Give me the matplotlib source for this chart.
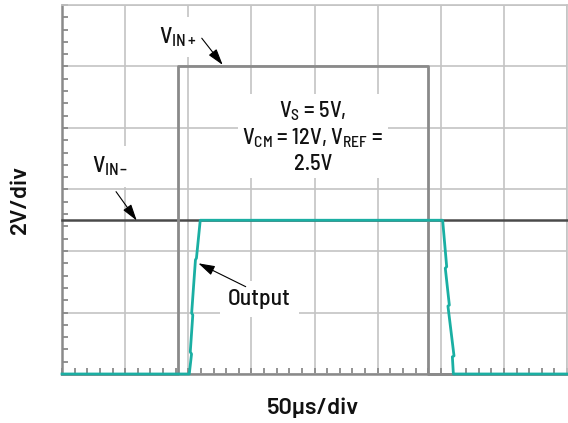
import matplotlib
matplotlib.use("Agg")
import matplotlib.pyplot as plt
from matplotlib.ticker import MultipleLocator

FONT = 'Barlow Semi Condensed'
plt.rcParams['font.family'] = [FONT, 'DejaVu Sans']
plt.rcParams['font.weight'] = 500
plt.rcParams['mathtext.fontset'] = 'custom'
plt.rcParams['mathtext.rm'] = FONT + ':medium'
plt.rcParams['mathtext.it'] = FONT + ':medium'
plt.rcParams['mathtext.bf'] = FONT + ':bold'

# ---- data (time in µs, voltage in V) ----
vin_plus_t = [0, 91.6, 91.6, 290.0, 290.0, 400]
vin_plus_v = [0, 0, 10, 10, 0, 0]

vin_minus_t = [0, 400]
vin_minus_v = [5, 5]

out_t = [0, 100.8, 102.6, 101.6, 103.6, 102.7, 105.7, 106.5, 109.5,
         301.5, 304.7, 303.6, 306.8, 305.7, 310.5, 309.2, 310.0, 400]
out_v = [0, 0, 0.65, 0.72, 1.92, 1.98, 3.71, 3.77, 5.0,
         5.0, 3.49, 3.44, 2.24, 2.21, 0.59, 0.56, 0.0, 0]

x_label = "50µs/div"
y_label = "2V/div"

GRAY = '#8a8a8a'
DARK = '#4a4a4a'
TEAL = '#1aafa3'
GRID = '#c4c4c4'
TXT = '#111111'

fig = plt.figure(figsize=(5.68, 4.23), dpi=100)
ax = fig.add_axes([62/568, 49/423, 505/568, 369/423])

ax.set_xlim(0, 400)
ax.set_ylim(0, 12)
ax.xaxis.set_major_locator(MultipleLocator(50))
ax.xaxis.set_minor_locator(MultipleLocator(10))
ax.yaxis.set_major_locator(MultipleLocator(2))
ax.yaxis.set_minor_locator(MultipleLocator(0.4))
ax.set_axisbelow(True)
ax.grid(True, which='major', color=GRID, lw=1.2)
ax.tick_params(which='both', direction='in', length=4, width=1.3,
               color=GRAY, labelbottom=False, labelleft=False)
for s in ['top', 'right']:
    ax.spines[s].set_color(GRID)
    ax.spines[s].set_linewidth(1.2)
for s in ['left', 'bottom']:
    ax.spines[s].set_color(GRAY)
    ax.spines[s].set_linewidth(1.8)

ax.plot(vin_minus_t, vin_minus_v, color=DARK, lw=1.8, zorder=4, clip_on=False)
ax.plot(vin_plus_t, vin_plus_v, color=GRAY, lw=2.0, zorder=4, clip_on=False)
ax.plot(out_t, out_v, color=TEAL, lw=2.0, zorder=5, clip_on=False)

fs = 16
lfs = 17
box = dict(boxstyle='square,pad=0.35', facecolor='white', edgecolor='none')

ax.text(91.9, 10.96, r'V$_{\mathrm{IN+}}$', fontsize=lfs, ha='center', va='center',
        bbox=box, zorder=3, color=TXT)
ax.text(37.5, 6.75, 'V$_{\\mathrm{IN}}$$_{\\mathrm{\u2013}}$', fontsize=lfs, ha='center', va='center',
        bbox=box, zorder=3, color=TXT)
ax.text(156.4, 2.44, 'Output', fontsize=lfs, ha='center', va='center',
        bbox=box, zorder=3, color=TXT)
ax.text(198.8, 7.72,
        'V$_{\\mathrm{S}}$ = 5V,\nV$_{\\mathrm{CM}}$ = 12V, V$_{\\mathrm{REF}}$ =\n2.5V',
        fontsize=fs, ha='center', va='center', multialignment='center', color=TXT,
        linespacing=1.2, bbox=dict(boxstyle='square,pad=0.2', facecolor='white', edgecolor='none'),
        zorder=3)

arrow = dict(arrowstyle='-|>,head_length=1.0,head_width=0.3', color='black',
             lw=0.8, shrinkA=0, shrinkB=0)
ax.annotate('', xy=(127.3, 10.05), xytext=(110.7, 10.92), arrowprops=arrow, zorder=6)
ax.annotate('', xy=(59.2, 4.99), xytext=(42.8, 5.93), arrowprops=arrow, zorder=6)
ax.annotate('', xy=(108.0, 3.60), xytext=(145.5, 2.84), arrowprops=arrow, zorder=6)

axis_font = ['Barlow', FONT, 'DejaVu Sans']
fig.text(313/568, 1 - 407.5/423, x_label, fontsize=17, ha='center', va='center',
         color=TXT, family=axis_font, weight=600)
fig.text(20/568, 1 - 199/423, y_label, fontsize=17, ha='center', va='center',
         rotation=90, color=TXT, family=axis_font, weight=600)

fig.savefig('out.png', dpi=100)
